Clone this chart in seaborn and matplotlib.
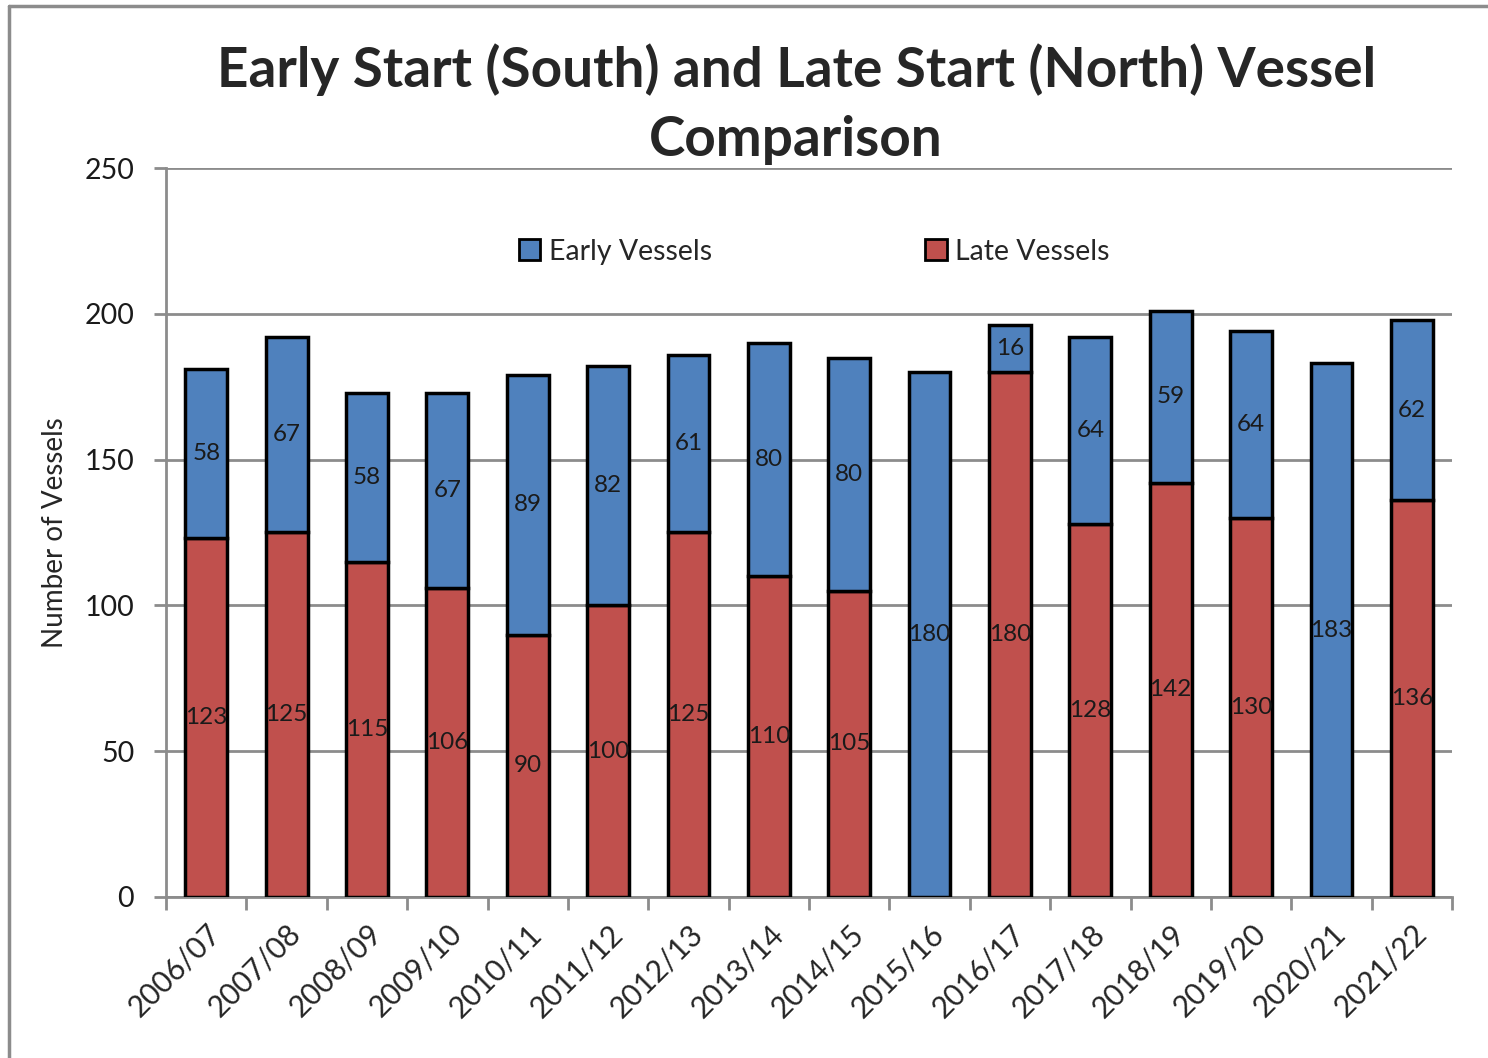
import numpy as np
import pandas as pd
import seaborn as sns
import matplotlib.pyplot as plt
from matplotlib.lines import Line2D
from matplotlib.patches import Patch

seasons = ["2006/07", "2007/08", "2008/09", "2009/10", "2010/11", "2011/12",
           "2012/13", "2013/14", "2014/15", "2015/16", "2016/17", "2017/18",
           "2018/19", "2019/20", "2020/21", "2021/22"]
late_vessels = [123, 125, 115, 106, 90, 100, 125, 110, 105, 0, 180, 128, 142, 130, 0, 136]
early_vessels = [58, 67, 58, 67, 89, 82, 61, 80, 80, 180, 16, 64, 59, 64, 183, 62]

blue = "#4f81bd"
red = "#c0504d"
grey = "#8c8c8c"

sns.set_theme(style="white")
plt.rcParams['font.family'] = ['Lato', 'DejaVu Sans']

df = pd.DataFrame({"season": seasons, "late": late_vessels, "early": early_vessels})

fig = plt.figure(figsize=(14.88, 10.58), dpi=100)
ax = fig.add_axes([0.1116, 0.1522, 0.8642, 0.6890])

# late vessels at the bottom (seaborn), early stacked on top
sns.barplot(data=df, x="season", y="late", color=red, width=0.52,
            edgecolor="black", linewidth=2.5, saturation=1, ax=ax, zorder=3)
early_bars = ax.bar(np.arange(len(seasons)), df["early"], bottom=df["late"], width=0.52,
                    color=blue, edgecolor="black", linewidth=2.5, zorder=3)

late_bars = ax.containers[0]
ax.bar_label(late_bars, labels=[str(v) if v > 0 else "" for v in late_vessels],
             label_type="center", fontsize=17.5, color="#1a1a1a", zorder=5)
ax.bar_label(early_bars, labels=[str(v) if v > 0 else "" for v in early_vessels],
             label_type="center", fontsize=17.5, color="#1a1a1a", zorder=5)

ax.set_ylim(0, 250)
ax.set_xlim(-0.5, len(seasons) - 0.5)
ax.set_yticks(range(0, 251, 50))
ax.yaxis.grid(True, color=grey, linewidth=2, zorder=0)
ax.set_axisbelow(True)

for s in ["top", "right"]:
    ax.spines[s].set_visible(False)
for s in ["left", "bottom"]:
    ax.spines[s].set_color(grey)
    ax.spines[s].set_linewidth(2)

ax.set_xticks(np.arange(len(seasons)))
ax.set_xticklabels(seasons, rotation=45, ha="right", rotation_mode="anchor", fontsize=21.5)
ax.set_xticks(np.arange(-0.5, len(seasons)), minor=True)
ax.tick_params(axis="x", which="major", length=0, pad=16)
ax.tick_params(axis="x", which="minor", length=9, width=2, color=grey, bottom=True)
ax.tick_params(axis="y", length=9, width=2, color=grey, left=True, labelsize=20.5, pad=14)
for t in ax.get_yticklabels():
    t.set_color("#1a1a1a")

ax.set_xlabel("")
ax.set_ylabel("Number of Vessels", fontsize=20, labelpad=12)

ax.set_title("Early Start (South) and Late Start (North) Vessel\nComparison",
             fontsize=39.5, fontweight="bold", linespacing=1.45, pad=9, x=0.49)

handles = [Patch(facecolor=blue, edgecolor="black", linewidth=2),
           Patch(facecolor=red, edgecolor="black", linewidth=2)]
ax.legend(handles, ["Early Vessels", "Late Vessels"], ncol=2, frameon=False,
          loc="center", bbox_to_anchor=(0.504, 0.885), fontsize=20.5,
          handlelength=0.75, handleheight=0.75, handletextpad=0.3, columnspacing=7.5)

# chart area border
fig.add_artist(Line2D([0.006, 1.0], [0.9945, 0.9945], color=grey, linewidth=2.5))
fig.add_artist(Line2D([0.006, 0.006], [0.0, 0.9945], color=grey, linewidth=2.5))

fig.savefig("out.png", dpi=100)
